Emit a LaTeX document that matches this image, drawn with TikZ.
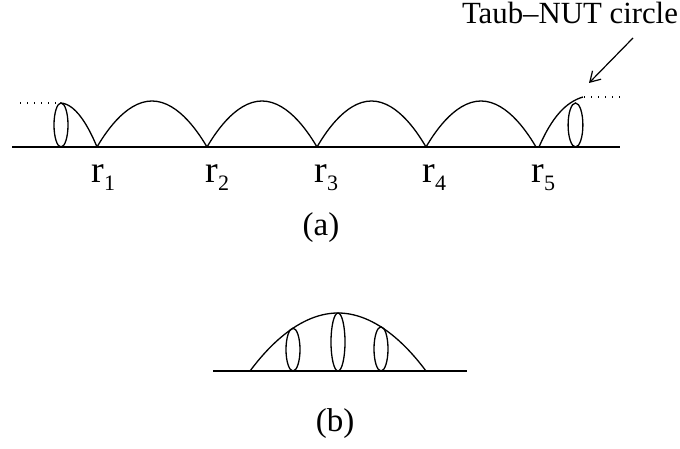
\documentclass[tikz,border=0pt]{standalone}
\usepackage{fontspec}
\setmainfont{Liberation Serif}
\usepackage{tikz}
\usetikzlibrary{arrows.meta}

\newcommand{\rsub}[1]{r\raisebox{-4pt}{\fontsize{11}{12}\selectfont #1}}

\begin{document}
\begin{tikzpicture}[
    x=0.5pt, y=0.5pt,
    curve/.style={line width=0.65pt},
    dots/.style={line width=0.6pt, dash pattern=on 0.6pt off 2.9pt},
    lab/.style={inner sep=0pt, font=\fontsize{19}{20}\selectfont},
    figlab/.style={inner sep=0pt, font=\fontsize{16.5}{18}\selectfont},
    arrow/.style={-{Straight Barb[length=5pt, width=6pt]}, line width=0.6pt}
]
\useasboundingbox (0,0) rectangle (680,449);

% (a): chain of arches
\draw[curve] (12,302) -- (620,302);
\draw[curve] (60,346) parabola (97,302);
\draw[curve] (97,302) parabola bend (152,348) (207,302);
\draw[curve] (207,302) parabola bend (262,348) (317,302);
\draw[curve] (317,302) parabola bend (371.5,348) (426,302);
\draw[curve] (426,302) parabola bend (481,348) (536,302);
\draw[curve] (539,302) .. controls (552,332) and (566,347) .. (583,352);

% circles at both ends
\draw[curve] (61,324) ellipse [x radius=3.5pt, y radius=11pt];
\draw[curve] (575.5,324) ellipse [x radius=3.7pt, y radius=11pt];
\draw[dots] (20,346) -- (57,346);
\draw[dots] (584,352) -- (621,352);

% labels
\node[lab, anchor=base west] (r1) at (91,266) {\rsub{1}};
\node[lab, anchor=base west] (r2) at (205,266) {\rsub{2}};
\node[lab, anchor=base west] (r3) at (314,266) {\rsub{3}};
\node[lab, anchor=base west] (r4) at (422,266) {\rsub{4}};
\node[lab, anchor=base west] (r5) at (531,266) {\rsub{5}};
\node[figlab, anchor=base] (capa) at (321,213) {(a)};

% Taub-NUT annotation
\node[inner sep=0pt, anchor=base, font=\fontsize{15.4}{17}\selectfont] (nut) at (570,425) {Taub--NUT circle};
\coordinate (tail) at (633,411);
\coordinate (tip) at (589,366);
\draw[arrow] (tail) -- (tip);

% (b): single arch
\draw[curve] (213,78) -- (467,78);
\draw[curve] (250,78) parabola bend (338,136) (426,78);
\draw[curve] (293,99.4) ellipse [x radius=3.5pt, y radius=10.7pt];
\draw[curve] (338,107) ellipse [x radius=3.5pt, y radius=14.5pt];
\draw[curve] (381,100.1) ellipse [x radius=3.5pt, y radius=11.05pt];
\node[figlab, anchor=base] (capb) at (335,17) {(b)};

\end{tikzpicture}
\end{document}
